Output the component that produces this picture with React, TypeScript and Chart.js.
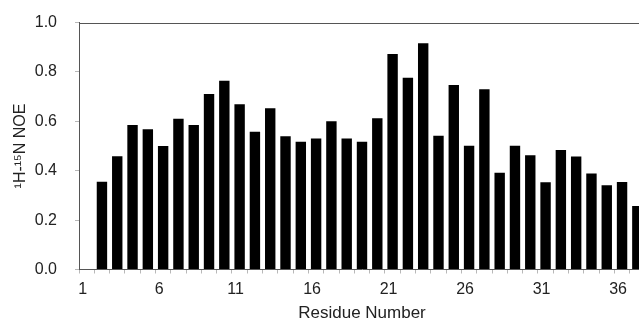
import React, { useEffect, useRef } from "react";
import { Chart, registerables } from "chart.js";

Chart.register(...registerables);

const residues: string[] = [
  "1", "2", "3", "4", "5", "6", "7", "8", "9", "10",
  "11", "12", "13", "14", "15", "16", "17", "18", "19", "20",
  "21", "22", "23", "24", "25", "26", "27", "28", "29", "30",
  "31", "32", "33", "34", "35", "36", "37",
];

const noeValues: (number | null)[] = [
  null, 0.355, 0.459, 0.585, 0.568, 0.5, 0.61, 0.585, 0.711, 0.764,
  0.669, 0.558, 0.653, 0.539, 0.517, 0.53, 0.6, 0.53, 0.517, 0.612,
  0.872, 0.776, 0.916, 0.541, 0.747, 0.501, 0.73, 0.392, 0.501, 0.463,
  0.353, 0.484, 0.457, 0.389, 0.341, 0.354, 0.257,
];

const xTickLabels: string[] = ["1", "6", "11", "16", "21", "26", "31", "36"];
const yTicks: number[] = [0, 0.2, 0.4, 0.6, 0.8, 1.0];

const FONT = "'Liberation Sans', Arial, Helvetica, sans-serif";
const TEXT = "#222222";
const AXIS = "#555555";
const TICK = "#b8b8b8";

const topBorder = {
  id: "topBorder",
  afterDraw(chart: any) {
    const { ctx, chartArea } = chart;
    ctx.save();
    ctx.strokeStyle = AXIS;
    ctx.lineWidth = 1;
    ctx.beginPath();
    ctx.moveTo(chartArea.left, Math.round(chartArea.top) + 0.5);
    ctx.lineTo(chartArea.right, Math.round(chartArea.top) + 0.5);
    ctx.stroke();
    ctx.restore();
  },
};

export default function App() {
  const ref = useRef<HTMLCanvasElement | null>(null);

  useEffect(() => {
    if (!ref.current) return;
    const chart = new Chart(ref.current, {
      type: "bar",
      data: {
        labels: residues,
        datasets: [
          {
            data: noeValues,
            backgroundColor: "#000000",
            borderWidth: 0,
            barPercentage: 0.68,
            categoryPercentage: 1,
          },
        ],
      },
      options: {
        animation: false,
        responsive: false,
        devicePixelRatio: 1,
        layout: { padding: { top: 22.5, right: 3, bottom: 0, left: 0 } },
        plugins: { legend: { display: false }, tooltip: { enabled: false } },
        scales: {
          x: {
            type: "category",
            offset: true,
            grid: {
              offset: true,
              drawOnChartArea: false,
              drawTicks: true,
              tickLength: 4,
              tickColor: TICK,
            },
            border: { display: true, color: AXIS, width: 1 },
            ticks: {
              autoSkip: false,
              maxRotation: 0,
              padding: 6,
              labelOffset: -4,
              color: TEXT,
              font: { family: FONT, size: 16 },
              callback: (_v: any, i: number) =>
                xTickLabels.includes(residues[i]) ? residues[i] : "",
            },
            title: {
              display: true,
              text: "Residue Number",
              color: TEXT,
              font: { family: FONT, size: 17 },
              padding: { top: 0, bottom: -4 },
            },
            afterFit: (axis: any) => {
              axis.height = 50.5;
              axis.paddingLeft = 0;
              axis.paddingRight = 0;
            },
          },
          y: {
            min: 0,
            max: 1,
            afterBuildTicks: (axis: any) => {
              axis.ticks = yTicks.map((v) => ({ value: v }));
            },
            grid: {
              drawOnChartArea: false,
              drawTicks: true,
              tickLength: 4,
              tickColor: TICK,
            },
            border: { display: true, color: AXIS, width: 1 },
            ticks: {
              padding: 18,
              color: TEXT,
              font: { family: FONT, size: 16 },
              callback: (v: any) => Number(v).toFixed(1),
            },
            title: {
              display: true,
              text: "¹H-¹⁵N NOE",
              color: TEXT,
              font: { family: FONT, size: 16 },
              padding: { top: 11, bottom: 0 },
            },
            afterFit: (axis: any) => {
              axis.width = 79;
              axis.paddingTop = 0;
              axis.paddingBottom = 0;
            },
          },
        },
      },
      plugins: [topBorder],
    });
    return () => chart.destroy();
  }, []);

  return (
    <div
      style={{
        position: "fixed",
        left: 0,
        top: 0,
        width: 639,
        height: 320,
        overflow: "hidden",
        background: "#ffffff",
      }}
    >
      <canvas ref={ref} width={648} height={320} style={{ display: "block" }} />
    </div>
  );
}
